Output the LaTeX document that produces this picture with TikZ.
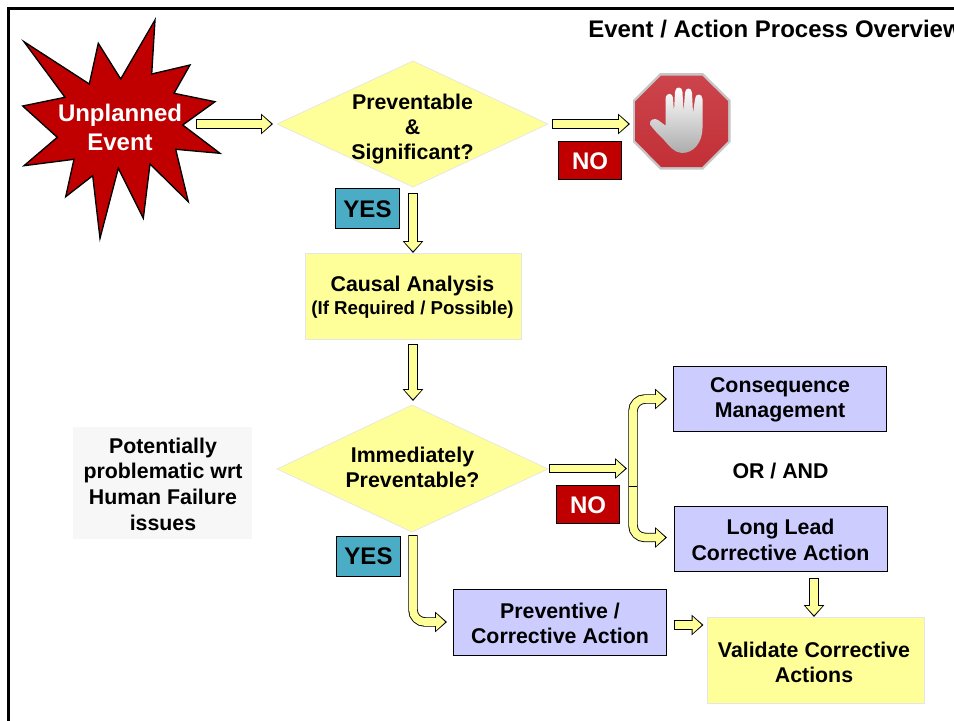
\documentclass[tikz,border=0pt]{standalone}
\usepackage{fontspec}
\setmainfont{Liberation Sans}
\usetikzlibrary{arrows.meta,shadings}
\definecolor{flowyellow}{HTML}{FFFF99}
\definecolor{panelyellow}{HTML}{FFFF99}
\definecolor{bluebox}{HTML}{CCCCFF}
\definecolor{darkred}{HTML}{C00000}
\definecolor{tealbox}{HTML}{4BACC6}
\definecolor{stoptop}{HTML}{CC444C}
\definecolor{stopmid}{HTML}{A82A2C}
\definecolor{stopbot}{HTML}{C23036}
\tikzset{
  x=0.75pt,y=-0.75pt,
  txt/.style={font=\fontsize{16}{19.2}\selectfont\bfseries,align=center,inner sep=0pt},
  panel/.style={draw=gray!20,fill=panelyellow,line width=0.5pt},
  decision/.style={panel},
  actionbox/.style={draw=black,fill=bluebox,line width=0.75pt},
  nobox/.style={draw=black,fill=darkred,line width=0.75pt},
  yesbox/.style={draw=black,fill=tealbox,line width=0.75pt},
  blockblack/.style={draw=black,line width=7.1pt,-{Triangle[length=9pt,width=15pt]}},
  blockfill/.style={draw=flowyellow,line width=5.8pt,shorten <=0.75pt,shorten >=1.3pt,-{Triangle[length=6.8pt,width=12pt]}},
}
\newcommand{\blockarrow}[1]{%
  \draw[blockblack] #1;
  \draw[blockfill] #1;
}
\newcommand{\rectat}[6]{% style, name, x1,y1,x2,y2
  \node[#1,minimum width=0.75pt*(#5-#3-1),minimum height=0.75pt*(#6-#4-1),inner sep=0pt,outer sep=0pt,anchor=north west] (#2) at (#3,#4) {};
}
\begin{document}
\begin{tikzpicture}
\useasboundingbox (0,0) rectangle (954,721);
% frame
\fill[white] (0,0) rectangle (954,721);
\draw[black,line width=2.1pt] (8.5,730) -- (8.5,8.5) -- (960,8.5);
% title
\node[txt,anchor=west,font=\fontsize{18}{21}\selectfont\bfseries] (title) at (588,29) {Event / Action Process Overview};
% burst
\draw[fill=darkred,draw=black,line width=1pt,miter limit=10]
 (155,20) -- (151.7,74) -- (190,65) -- (174,93.3) -- (215,101.7) -- (182.7,125) -- (220,153.3)
 -- (175.7,149.3) -- (188.3,201.7) -- (150,164) -- (143.3,218.3) -- (118.3,168.3) -- (100,238.3)
 -- (92.7,175.7) -- (65.7,196.7) -- (74,159.3) -- (24,165.7) -- (57.3,137.3) -- (22.7,106)
 -- (65,97.3) -- (24,41.7) -- (89.3,84) -- (98.3,43.3) -- (120.7,79) -- cycle;
\node[txt,text=white,font=\fontsize{18}{21.75}\selectfont\bfseries] (event) at (120,127.5) {Unplanned\\Event};
% diamonds
\draw[decision] (277,124) coordinate (d1w) -- (413,61) coordinate (d1n) -- (548,124) coordinate (d1e) -- (413,187) coordinate (d1s) -- cycle;
\node[txt,font=\fontsize{16}{18.75}\selectfont\bfseries] (d1t) at (412.5,129) {Preventable\\\&\\Significant?};
\draw[decision] (277,469) coordinate (d2w) -- (412,405) coordinate (d2n) -- (548,469) coordinate (d2e) -- (412,532) coordinate (d2s) -- cycle;
\node[txt,font=\fontsize{16}{18.75}\selectfont\bfseries] (d2t) at (412.5,467) {Immediately\\Preventable?};
% stop icon
\fill[gray!45] (660,73) -- (703,73) -- (730.5,100) -- (730.5,142) -- (703,169.5) -- (660,169.5) -- (633,142) -- (633,100) -- cycle;
\shade[top color=stoptop,middle color=stopmid,bottom color=stopbot]
 (661,75.5) -- (702,75.5) -- (728,101) -- (728,141) -- (702,167) -- (661,167) -- (635.5,141) -- (635.5,101) -- cycle;
\shade[top color=white,bottom color=gray!65]
 (664,140) .. controls (658,134) and (654,130) .. (650,124.5)
 .. controls (649,119) and (655,118) .. (658,120)
 .. controls (661,122) and (663,124) .. (665.5,125.5)
 -- (665.5,99) .. controls (666,92) and (673,92) .. (673,99) -- (674,112)
 -- (675,92) .. controls (675,86) and (682.5,86) .. (682.5,92) -- (683.5,112)
 -- (685,93) .. controls (685,87) and (692,87) .. (692,93) -- (693,113)
 -- (695,99) .. controls (695,93) and (702.5,93) .. (702.5,99) -- (702.5,128)
 .. controls (702.5,142) and (694,153) .. (682,153)
 .. controls (675,153) and (669,146) .. (664,140) -- cycle;
% boxes
\rectat{panel}{causal}{305}{253}{522}{340}
\node[txt] (causalt) at (412.5,286) {Causal Analysis};
\node[txt,font=\fontsize{14}{17}\selectfont\bfseries] (causals) at (412.5,309.5) {(If Required / Possible)};
\rectat{actionbox}{conseq}{673}{366}{887}{432}
\node[txt] (conseqt) at (780,400) {Consequence\\Management};
\rectat{actionbox}{longlead}{674}{506}{888}{572}
\node[txt] (longleadt) at (780.5,540) {Long Lead\\Corrective Action};
\rectat{actionbox}{prevent}{453}{589}{667}{656}
\node[txt,font=\fontsize{16}{18.75}\selectfont\bfseries] (preventt) at (560,623.5) {Preventive /\\Corrective Action};
\rectat{panel}{validate}{707}{617}{925}{704}
\node[txt,font=\fontsize{16}{18.75}\selectfont\bfseries] (validatet) at (814,662) {Validate Corrective\\Actions};
\rectat{draw=none,fill=black!3}{note}{73}{427}{253}{540}
\node[txt,font=\fontsize{16}{19.3}\selectfont\bfseries] (notet) at (163,484) {Potentially\\problematic wrt\\Human Failure\\issues};
\node[txt] (orand) at (780.5,471) {OR / AND};
% labels
\rectat{nobox}{no1}{558}{141}{622}{180}
\node[txt,text=white,font=\fontsize{18}{21}\selectfont\bfseries] (no1t) at (590,161) {NO};
\rectat{yesbox}{yes1}{335}{188}{400}{229}
\node[txt,font=\fontsize{18}{21}\selectfont\bfseries] (yes1t) at (367.5,209) {YES};
\rectat{nobox}{no2}{556}{485}{620}{524}
\node[txt,text=white,font=\fontsize{18}{21}\selectfont\bfseries] (no2t) at (588,505) {NO};
\rectat{yesbox}{yes2}{336}{536}{401}{577}
\node[txt,font=\fontsize{18}{21}\selectfont\bfseries] (yes2t) at (368.5,556) {YES};
% connectors
\coordinate (a1s) at (196,124); \coordinate (a1e) at (273,124);
\blockarrow{(a1s) -- (a1e)}
\coordinate (a2s) at (552,124); \coordinate (a2e) at (630,124);
\blockarrow{(a2s) -- (a2e)}
\coordinate (a3s) at (413,193);
\blockarrow{(a3s) -- (causal.north -| a3s)}
\coordinate (a4s) at (413,344); \coordinate (a4e) at (413,401);
\blockarrow{(a4s) -- (a4e)}
\coordinate (a5s) at (549,468.5); \coordinate (a5e) at (627,468.5);
\blockarrow{(a5s) -- (a5e)}
% bracket
\coordinate (bm) at (633,486); \coordinate (bt) at (667,399); \coordinate (bb) at (667,537.5);
\draw[blockblack,rounded corners=9pt] (bm) -- (bm |- bt) -- (bt);
\draw[blockblack,rounded corners=9pt] (bm) -- (bm |- bb) -- (bb);
\draw[blockfill,rounded corners=9pt,shorten <=0pt] (bm) -- (bm |- bt) -- (bt);
\draw[blockfill,rounded corners=9pt,shorten <=0pt] (bm) -- (bm |- bb) -- (bb);
\draw[black,line width=0.3pt] (629,486) -- (637,486);
% yes to preventive
\coordinate (a6s) at (413,535); \coordinate (a6e) at (447,622);
\blockarrow{[rounded corners=9pt] (a6s) -- (a6s |- a6e) -- (a6e)}
\coordinate (a7s) at (673.5,625); \coordinate (a7e) at (703.5,625);
\blockarrow{(a7s) -- (a7e)}
\coordinate (a8s) at (814,578); \coordinate (a8e) at (814,617);
\blockarrow{(a8s) -- (a8e)}
\end{tikzpicture}
\end{document}
